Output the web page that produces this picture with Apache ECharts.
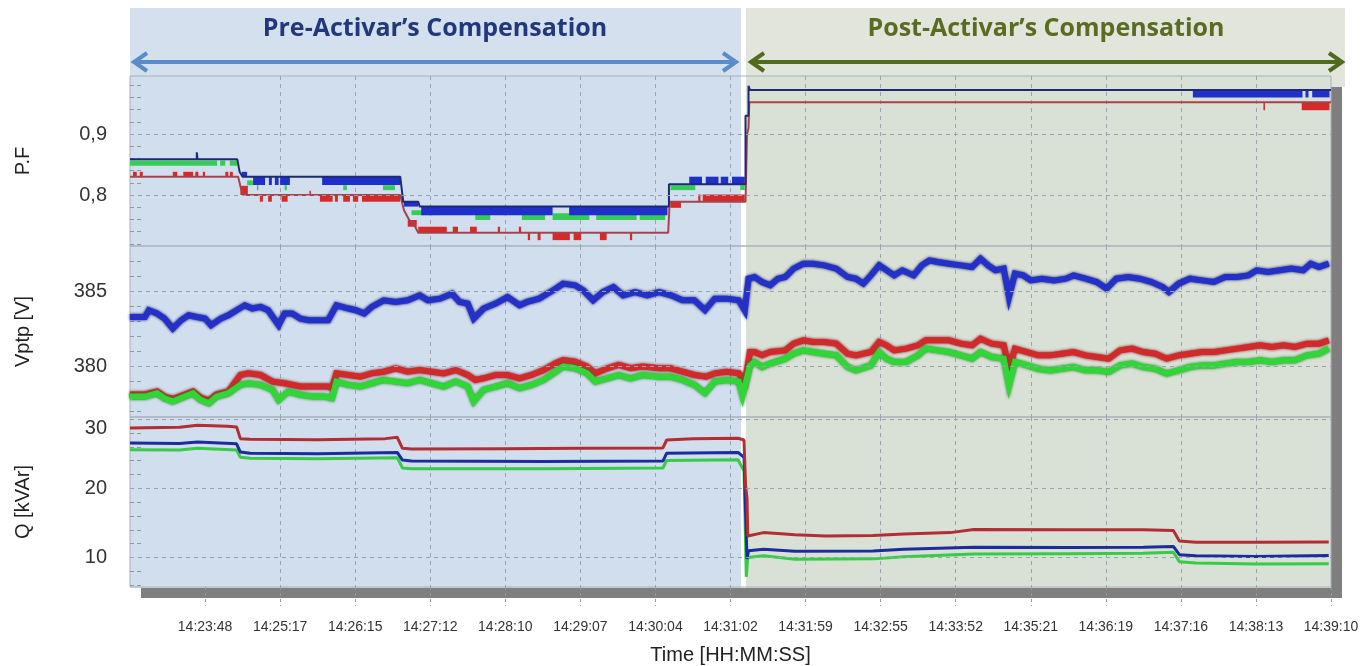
<!DOCTYPE html>
<html>
<head>
<meta charset="utf-8">
<title>Pre / Post Activar's Compensation</title>
<script src="https://cdn.jsdelivr.net/npm/echarts@6/dist/echarts.min.js"></script>
<style>
  html, body { margin: 0; padding: 0; background: #ffffff; }
  #chart { width: 1370px; height: 666px; }
</style>
</head>
<body>
<div id="chart"></div>
<script>
// x is the sample position: 0..16, one unit per labelled tick
const tickLabels = ['14:23:48', '14:25:17', '14:26:15', '14:27:12', '14:28:10', '14:29:07', '14:30:04', '14:31:02',
  '14:31:59', '14:32:55', '14:33:52', '14:35:21', '14:36:19', '14:37:16', '14:38:13', '14:39:10'];

const pfMajor = [0.8, 0.9];
const pfMinor = [0.72, 0.74, 0.76, 0.78, 0.82, 0.84, 0.86, 0.88, 0.92, 0.94, 0.96, 0.98];
const vMajor = [380, 385];
const vMinor = [377, 378, 379, 381, 382, 383, 384, 386, 387];
const qMajor = [10, 20, 30];
const qMinor = [6, 8, 12, 14, 16, 18, 22, 24, 26, 28];

// power factor: envelope lines [x, pf]
const pfBlueLine = [[0, 0.8585], [0.89, 0.8585], [0.89, 0.870], [0.9, 0.870], [0.9, 0.8585], [1.43, 0.8585],
  [1.46, 0.838], [1.5, 0.830], [3.6, 0.830], [3.64, 0.789], [3.84, 0.789], [3.86, 0.781], [7.18, 0.781],
  [7.18, 0.8175], [8.2, 0.8175], [8.2, 0.93], [8.24, 0.93], [8.24, 0.979], [8.26, 0.979], [8.26, 0.972], [16, 0.972]];
const pfRedLine = [[0, 0.830], [1.44, 0.830], [1.48, 0.810], [1.53, 0.800], [3.6, 0.800], [3.65, 0.775],
  [3.72, 0.759], [3.8, 0.748], [3.84, 0.738], [7.17, 0.738], [7.19, 0.789], [8.2, 0.789], [8.22, 0.90],
  [8.24, 0.91], [8.25, 0.952], [16, 0.952]];
// toggling stretches [x0, x1, pfLow, pfHigh]
const pfBlueBlocks = [[1.49, 1.56, 0.830, 0.838], [1.64, 1.80, 0.8164, 0.830], [1.85, 1.89, 0.8164, 0.830],
  [1.93, 1.98, 0.8164, 0.830], [2.0, 2.13, 0.8164, 0.830], [2.56, 3.6, 0.8164, 0.830],
  [3.65, 3.84, 0.781, 0.789], [3.88, 5.63, 0.767, 0.781], [5.85, 7.16, 0.767, 0.781],
  [7.45, 7.62, 0.818, 0.830], [7.67, 7.84, 0.818, 0.830], [7.87, 7.97, 0.818, 0.830], [8.02, 8.19, 0.818, 0.830],
  [14.16, 15.62, 0.960, 0.972], [15.66, 15.7, 0.960, 0.972], [15.75, 15.98, 0.960, 0.972]];
const pfGreenBlocks = [[0.0, 1.16, 0.848, 0.8565], [1.2, 1.27, 0.848, 0.8565], [1.33, 1.43, 0.848, 0.8565],
  [1.56, 1.64, 0.816, 0.824], [1.69, 1.71, 0.808, 0.816], [2.06, 2.09, 0.808, 0.816], [2.84, 2.89, 0.808, 0.816],
  [3.37, 3.53, 0.808, 0.816], [3.75, 4.13, 0.767, 0.775], [4.6, 4.8, 0.759, 0.770], [5.22, 5.53, 0.759, 0.770],
  [5.63, 6.12, 0.759, 0.770], [6.21, 6.75, 0.759, 0.770], [6.79, 7.13, 0.759, 0.770],
  [7.2, 7.53, 0.808, 0.816], [8.13, 8.19, 0.808, 0.816]];
const pfRedBlocks = [[0.04, 0.09, 0.830, 0.838], [0.13, 0.17, 0.830, 0.838], [0.57, 0.63, 0.830, 0.838],
  [0.71, 0.84, 0.830, 0.838], [0.87, 0.91, 0.830, 0.838], [0.97, 1.0, 0.830, 0.838], [1.27, 1.31, 0.830, 0.838],
  [1.33, 1.37, 0.830, 0.838], [1.47, 1.57, 0.800, 0.815], [1.73, 1.77, 0.789, 0.800], [1.84, 1.89, 0.789, 0.800],
  [2.02, 2.1, 0.789, 0.800], [2.39, 2.41, 0.800, 0.807], [2.53, 2.7, 0.789, 0.800], [2.73, 2.77, 0.789, 0.800],
  [2.84, 2.93, 0.789, 0.800], [2.97, 3.04, 0.789, 0.800], [3.09, 3.6, 0.789, 0.800],
  [3.7, 3.82, 0.748, 0.759], [3.84, 4.22, 0.738, 0.748], [4.3, 4.37, 0.738, 0.748], [4.53, 4.62, 0.738, 0.748],
  [4.9, 4.93, 0.738, 0.748], [5.18, 5.21, 0.738, 0.748], [5.3, 5.33, 0.726, 0.738], [5.43, 5.47, 0.726, 0.738],
  [5.63, 5.86, 0.726, 0.738], [5.91, 6.01, 0.726, 0.738], [6.26, 6.35, 0.726, 0.738], [6.66, 6.69, 0.726, 0.738],
  [7.2, 7.34, 0.779, 0.789], [7.57, 7.6, 0.789, 0.801], [7.63, 8.19, 0.789, 0.801],
  [15.1, 15.12, 0.939, 0.952], [15.61, 15.98, 0.939, 0.952]];

// phase-to-phase voltage [x, V]
const vBlue = [[0, 383.27], [0.2, 383.27], [0.25, 383.72], [0.36, 383.5], [0.46, 383.16], [0.57, 382.5],
  [0.68, 383.05], [0.78, 383.38], [0.89, 383.27], [1.0, 383.16], [1.08, 382.72], [1.21, 383.16], [1.31, 383.38],
  [1.42, 383.72], [1.53, 384.05], [1.63, 383.83], [1.74, 383.94], [1.84, 383.72], [1.98, 382.72], [2.06, 383.5],
  [2.16, 383.5], [2.27, 383.16], [2.38, 383.05], [2.53, 383.05], [2.64, 383.05], [2.75, 384.05], [2.91, 383.83],
  [3.01, 383.72], [3.12, 383.5], [3.22, 383.94], [3.38, 384.38], [3.54, 384.27], [3.7, 384.38], [3.86, 384.71],
  [3.97, 384.38], [4.13, 384.49], [4.29, 384.82], [4.39, 384.27], [4.5, 384.16], [4.58, 383.16], [4.71, 383.83],
  [4.87, 384.16], [5.03, 384.6], [5.19, 384.05], [5.29, 384.27], [5.45, 384.49], [5.56, 384.82], [5.67, 385.15],
  [5.77, 385.49], [5.93, 385.38], [6.04, 385.04], [6.17, 384.38], [6.3, 384.93], [6.44, 385.26], [6.57, 384.71],
  [6.73, 384.93], [6.89, 384.71], [7.05, 384.93], [7.21, 384.71], [7.36, 384.38], [7.52, 384.38], [7.66, 383.72],
  [7.79, 384.49], [7.95, 384.49], [8.11, 384.38], [8.19, 383.7],
  [8.24, 385.82], [8.32, 385.93], [8.42, 385.6], [8.53, 385.38], [8.63, 385.82], [8.73, 385.93], [8.84, 386.49],
  [8.97, 386.82], [9.1, 386.82], [9.25, 386.71], [9.41, 386.49], [9.56, 385.93], [9.67, 385.82], [9.77, 385.49],
  [9.87, 386.04], [9.98, 386.71], [10.08, 386.38], [10.18, 386.04], [10.29, 386.38], [10.44, 386.04], [10.55, 386.71],
  [10.65, 387.04], [10.76, 386.93], [10.91, 386.82], [11.07, 386.71], [11.22, 386.6], [11.33, 387.16], [11.43, 386.71],
  [11.53, 386.38], [11.64, 386.49], [11.71, 384.6], [11.79, 386.16], [11.9, 386.04], [12.0, 385.71], [12.15, 385.82],
  [12.31, 385.71], [12.47, 385.82], [12.57, 386.04], [12.73, 385.82], [12.88, 385.6], [13.01, 385.16], [13.14, 385.82],
  [13.3, 385.93], [13.45, 385.82], [13.61, 385.6], [13.76, 385.27], [13.84, 384.93], [13.97, 385.49], [14.12, 385.82],
  [14.28, 385.71], [14.44, 385.6], [14.59, 385.93], [14.75, 385.93], [14.9, 386.04], [15.01, 386.38], [15.16, 386.27],
  [15.32, 386.38], [15.47, 386.49], [15.63, 386.38], [15.73, 386.82], [15.84, 386.6], [15.97, 386.82]];
const vRed = [[0, 378.1], [0.2, 378.1], [0.36, 378.3], [0.46, 377.96], [0.57, 377.8], [0.73, 378.1], [0.84, 378.3],
  [0.94, 377.9], [1.05, 377.7], [1.15, 378.1], [1.31, 378.3], [1.47, 379.4], [1.58, 379.51], [1.74, 379.4],
  [1.9, 378.96], [2.06, 378.85], [2.27, 378.63], [2.43, 378.63], [2.64, 378.63], [2.69, 378.52], [2.75, 379.51],
  [2.91, 379.4], [3.07, 379.29], [3.22, 379.51], [3.38, 379.62], [3.54, 379.85], [3.7, 379.62], [3.86, 379.73],
  [4.02, 379.62], [4.18, 379.51], [4.34, 379.73], [4.5, 379.4], [4.6, 379.07], [4.71, 379.18], [4.87, 379.4],
  [5.03, 379.4], [5.19, 379.18], [5.35, 379.4], [5.51, 379.73], [5.67, 380.18], [5.77, 380.4], [5.93, 380.29],
  [6.09, 379.96], [6.2, 379.51], [6.36, 379.85], [6.51, 380.07], [6.67, 379.85], [6.83, 379.96], [7.05, 379.85],
  [7.2, 379.85], [7.36, 379.62], [7.52, 379.4], [7.68, 379.29], [7.79, 379.51], [7.95, 379.62], [8.11, 379.51],
  [8.19, 378.9],
  [8.26, 380.93], [8.32, 380.93], [8.42, 380.71], [8.53, 380.93], [8.73, 381.04], [8.84, 381.49], [8.97, 381.71],
  [9.1, 381.6], [9.25, 381.6], [9.41, 381.49], [9.56, 380.82], [9.67, 380.71], [9.87, 380.93], [9.98, 381.6],
  [10.08, 381.38], [10.18, 381.04], [10.34, 381.16], [10.5, 381.38], [10.6, 381.71], [10.76, 381.71], [10.91, 381.71],
  [11.07, 381.49], [11.22, 381.38], [11.33, 381.82], [11.48, 381.49], [11.64, 381.38], [11.71, 379.82], [11.79, 381.16],
  [11.95, 380.93], [12.1, 380.71], [12.26, 380.71], [12.41, 380.82], [12.57, 380.93], [12.73, 380.71], [12.88, 380.6],
  [13.04, 380.49], [13.19, 381.04], [13.35, 381.16], [13.5, 380.93], [13.66, 380.82], [13.81, 380.49], [13.97, 380.71],
  [14.12, 380.82], [14.28, 380.93], [14.44, 380.93], [14.59, 381.04], [14.75, 381.16], [14.9, 381.27], [15.06, 381.38],
  [15.21, 381.27], [15.37, 381.38], [15.52, 381.27], [15.68, 381.49], [15.84, 381.49], [15.97, 381.71]];
const vGreen = [[0, 377.96], [0.2, 377.96], [0.36, 378.19], [0.46, 377.85], [0.57, 377.63], [0.73, 377.96],
  [0.84, 378.19], [0.94, 377.74], [1.05, 377.52], [1.15, 377.96], [1.31, 378.19], [1.47, 378.74], [1.58, 378.85],
  [1.74, 378.74], [1.9, 378.41], [1.98, 377.74], [2.11, 378.3], [2.27, 378.08], [2.43, 377.96], [2.59, 377.96],
  [2.69, 377.85], [2.75, 378.96], [2.91, 378.74], [3.07, 378.63], [3.22, 378.85], [3.38, 379.07], [3.54, 378.96],
  [3.7, 378.85], [3.86, 379.07], [4.02, 378.85], [4.18, 378.63], [4.34, 378.96], [4.5, 378.63], [4.58, 377.63],
  [4.71, 378.41], [4.87, 378.63], [5.03, 378.85], [5.19, 378.52], [5.35, 378.74], [5.51, 379.07], [5.67, 379.62],
  [5.77, 379.96], [5.93, 379.85], [6.09, 379.51], [6.2, 378.96], [6.36, 379.18], [6.51, 379.4], [6.67, 379.18],
  [6.83, 379.4], [7.05, 379.29], [7.2, 379.29], [7.36, 379.07], [7.52, 378.74], [7.66, 378.19], [7.79, 378.96],
  [7.95, 379.07], [8.11, 378.96], [8.16, 378.04],
  [8.26, 380.04], [8.32, 380.27], [8.42, 379.93], [8.53, 380.16], [8.73, 380.49], [8.84, 380.82], [8.97, 381.04],
  [9.1, 380.93], [9.25, 380.82], [9.41, 380.71], [9.56, 379.93], [9.67, 379.71], [9.87, 380.04], [9.98, 380.93],
  [10.08, 380.49], [10.18, 380.27], [10.34, 380.27], [10.5, 380.71], [10.6, 381.16], [10.76, 381.04], [10.91, 380.93],
  [11.07, 380.71], [11.22, 380.49], [11.33, 380.93], [11.48, 380.6], [11.64, 380.49], [11.71, 378.71], [11.79, 380.27],
  [11.95, 380.04], [12.1, 379.82], [12.26, 379.71], [12.41, 379.82], [12.57, 379.93], [12.73, 379.71], [12.88, 379.71],
  [13.04, 379.6], [13.19, 380.04], [13.35, 380.16], [13.5, 379.93], [13.66, 379.82], [13.81, 379.49], [13.97, 379.71],
  [14.12, 379.93], [14.28, 380.04], [14.44, 380.04], [14.59, 380.16], [14.75, 380.27], [14.9, 380.27], [15.06, 380.38],
  [15.21, 380.27], [15.37, 380.38], [15.52, 380.38], [15.68, 380.71], [15.84, 380.82], [15.97, 381.16]];

// reactive power [x, kVAr]
const qRed = [[0, 28.75], [0.66, 28.85], [0.9, 29.15], [1.3, 29.0], [1.42, 28.9], [1.47, 27.2], [1.6, 27.1],
  [2.5, 27.05], [3.4, 27.2], [3.56, 27.4], [3.63, 25.8], [3.75, 25.7], [5.0, 25.75], [6.0, 25.8], [7.1, 25.85],
  [7.15, 27.0], [7.5, 27.2], [8.1, 27.25], [8.18, 27.0], [8.2, 20.5], [8.22, 18.5], [8.23, 13.1], [8.44, 13.6],
  [8.86, 13.3], [9.27, 13.1], [9.9, 13.2], [10.31, 13.4], [10.93, 13.6], [11.24, 14.05], [12.5, 14.0], [13.5, 14.0],
  [13.9, 13.9], [13.98, 12.4], [14.2, 12.2], [15.0, 12.2], [15.97, 12.25]];
const qBlue = [[0, 26.55], [0.66, 26.5], [0.9, 26.7], [1.42, 26.45], [1.47, 25.25], [1.6, 25.1], [2.5, 25.0],
  [3.56, 25.2], [3.63, 24.1], [3.75, 23.95], [5.5, 23.9], [7.1, 23.95], [7.15, 25.1], [8.1, 25.2], [8.18, 24.5],
  [8.2, 17], [8.22, 9.8], [8.24, 10.96], [8.44, 11.2], [8.86, 10.9], [9.9, 10.95], [10.31, 11.2], [11.24, 11.5],
  [12.5, 11.45], [13.5, 11.5], [13.9, 11.6], [13.98, 10.4], [14.2, 10.25], [15.0, 10.15], [15.97, 10.3]];
const qGreen = [[0, 25.6], [0.66, 25.55], [0.9, 25.8], [1.42, 25.55], [1.47, 24.5], [1.6, 24.35], [2.5, 24.3],
  [3.56, 24.45], [3.63, 22.95], [3.75, 22.85], [5.5, 22.85], [7.1, 22.95], [7.15, 24.05], [8.1, 24.15], [8.18, 22.5],
  [8.21, 7.2], [8.23, 10.0], [8.44, 10.25], [8.86, 9.75], [9.9, 9.8], [10.31, 10.1], [11.24, 10.5], [12.5, 10.55],
  [13.5, 10.6], [13.9, 10.75], [13.98, 9.4], [14.2, 9.2], [15.0, 9.05], [15.97, 9.1]];

const chart = echarts.init(document.getElementById('chart'));

const gridLine = { color: '#9ba4ae', type: [4, 4], width: 1 };

function majorLines(values) {
  return {
    silent: true, symbol: 'none', animation: false,
    label: { show: false },
    lineStyle: gridLine,
    data: values.map(v => ({ yAxis: v }))
  };
}

function renderBlock(params, api) {
  const a = api.coord([api.value(0), api.value(3)]);
  const b = api.coord([api.value(1), api.value(2)]);
  return {
    type: 'rect',
    shape: { x: a[0], y: a[1], width: Math.max(b[0] - a[0], 1.5), height: b[1] - a[1] },
    style: { fill: api.visual('color') }
  };
}

function blocks(data, color, gi) {
  return {
    type: 'custom', xAxisIndex: gi, yAxisIndex: gi, silent: true, clip: true,
    renderItem: renderBlock, encode: { x: [0, 1], y: [2, 3] },
    itemStyle: { color: color }, data: data
  };
}

function trace(data, color, width, gi, extra) {
  return Object.assign({
    type: 'line', xAxisIndex: gi, yAxisIndex: gi, silent: true,
    showSymbol: false, symbol: 'none', clip: true,
    lineStyle: { color: color, width: width }, itemStyle: { color: color },
    data: data
  }, extra || {});
}

// thick noisy-looking voltage traces: bright core with a darker rim
function vTrace(data, color, rim, extra) {
  return trace(data, color, 6, 1, Object.assign({
    lineStyle: { color: color, width: 6, shadowColor: rim, shadowBlur: 3, join: 'miter' }
  }, extra || {}));
}

function xAxis(gi, bottom) {
  return {
    type: 'value', gridIndex: gi, min: 0, max: 16, interval: 1,
    axisLine: { show: false },
    axisTick: { show: bottom, length: 19, customValues: tickLabels.map((t, i) => i + 1),
      lineStyle: { color: '#999', type: [3, 3] } },
    axisLabel: {
      show: bottom, margin: 33, fontSize: 14, color: '#333', fontFamily: 'Liberation Sans',
      formatter: v => (v >= 1 ? tickLabels[Math.round(v) - 1] : '')
    },
    splitLine: { show: true, showMinLine: false, showMaxLine: false, lineStyle: gridLine },
    name: bottom ? 'Time [HH:MM:SS]' : '',
    nameLocation: 'middle', nameGap: 58,
    nameTextStyle: { fontSize: 20, color: '#222', fontFamily: 'Liberation Sans' }
  };
}

function yAxis(gi, name, min, max, major, minor, fmt) {
  return {
    type: 'value', gridIndex: gi, min: min, max: max,
    name: name, nameLocation: 'middle', nameGap: 97,
    nameTextStyle: { fontSize: 20, color: '#222', fontFamily: 'Liberation Sans' },
    axisLine: { show: false },
    axisTick: { show: true, inside: true, length: 11, customValues: minor,
      lineStyle: { color: '#8f979f', type: [4, 3] } },
    axisLabel: { customValues: major, margin: 23, fontSize: 20, color: '#333',
      fontFamily: 'Liberation Sans', formatter: fmt,
      rich: { low: { fontSize: 20, color: '#333', fontFamily: 'Liberation Sans', padding: [18, 0, 0, 0] } } },
    splitLine: { show: false }
  };
}

const gridBox = { left: 130, width: 1201, show: true, borderColor: '#a9b2bc', borderWidth: 1, backgroundColor: 'transparent' };

const option = {
  animation: false,
  backgroundColor: '#ffffff',
  grid: [
    Object.assign({ top: 76, height: 170 }, gridBox),
    Object.assign({ top: 246, height: 171 }, gridBox),
    Object.assign({ top: 417, height: 171 }, gridBox)
  ],
  xAxis: [xAxis(0, false), xAxis(1, false), xAxis(2, true)],
  yAxis: [
    yAxis(0, 'P.F', 0.71639, 0.99508, pfMajor, pfMinor, v => v.toFixed(1).replace('.', ',')),
    yAxis(1, 'Vptp [V]', 376.6, 388.0, vMajor, vMinor, v => String(Math.round(v))),
    yAxis(2, 'Q [kVAr]', 5.73, 30.33, qMajor, qMinor, v => (Math.round(v) === 30 ? '{low|30}' : String(Math.round(v))))
  ],
  graphic: [
    // header and plot backgrounds
    { type: 'rect', z: -20, shape: { x: 130, y: 8, width: 611, height: 68 }, style: { fill: '#d5e0ee' } },
    { type: 'rect', z: -20, shape: { x: 746, y: 8, width: 599, height: 79 }, style: { fill: '#e1e5dc' } },
    { type: 'rect', z: -20, shape: { x: 130, y: 76, width: 611, height: 512 }, style: { fill: '#d1deee' } },
    { type: 'rect', z: -20, shape: { x: 746, y: 76, width: 585, height: 512 }, style: { fill: '#d9e0d6' } },
    // drop shadow of the plot
    { type: 'rect', z: -19, shape: { x: 141, y: 588, width: 1201, height: 10 }, style: { fill: '#7f7f7f' } },
    { type: 'rect', z: -19, shape: { x: 1331, y: 87, width: 11, height: 511 }, style: { fill: '#7f7f7f' } },
    // section titles
    { type: 'text', z: 10, style: { text: 'Pre-Activar’s Compensation', x: 435, y: 29, align: 'center', verticalAlign: 'middle',
      fontSize: 25, fontWeight: 'bold', fontFamily: 'Open Sans', fill: '#21397a' } },
    { type: 'text', z: 10, style: { text: 'Post-Activar’s Compensation', x: 1046, y: 29, align: 'center', verticalAlign: 'middle',
      fontSize: 25, fontWeight: 'bold', fontFamily: 'Open Sans', fill: '#5a6b22' } },
    // double arrows
    { type: 'polyline', z: 10, shape: { points: [[134, 62], [736, 62]] }, style: { stroke: '#5a8cca', lineWidth: 4 } },
    { type: 'polyline', z: 10, shape: { points: [[147, 53], [134, 62], [147, 71]] }, style: { stroke: '#5a8cca', lineWidth: 4, fill: null, lineJoin: 'miter' } },
    { type: 'polyline', z: 10, shape: { points: [[723, 53], [736, 62], [723, 71]] }, style: { stroke: '#5a8cca', lineWidth: 4, fill: null, lineJoin: 'miter' } },
    { type: 'polyline', z: 10, shape: { points: [[751, 62], [1342, 62]] }, style: { stroke: '#506b20', lineWidth: 4 } },
    { type: 'polyline', z: 10, shape: { points: [[764, 53], [751, 62], [764, 71]] }, style: { stroke: '#506b20', lineWidth: 4, fill: null, lineJoin: 'miter' } },
    { type: 'polyline', z: 10, shape: { points: [[1329, 53], [1342, 62], [1329, 71]] }, style: { stroke: '#506b20', lineWidth: 4, fill: null, lineJoin: 'miter' } }
  ],
  series: [
    // P.F panel
    Object.assign(blocks(pfRedBlocks, '#d42a2a', 0), { markLine: majorLines(pfMajor) }),
    trace(pfRedLine, '#a8434b', 2, 0),
    blocks(pfGreenBlocks, '#35cc55', 0),
    blocks(pfBlueBlocks, '#1f2fcc', 0),
    trace(pfBlueLine, '#1e2a72', 2, 0),
    // Vptp panel
    vTrace(vRed, '#d22a2a', '#7a1010', { markLine: majorLines(vMajor) }),
    vTrace(vGreen, '#2fd636', '#1a7a1a'),
    vTrace(vBlue, '#2331c9', '#0c1260'),
    // Q panel
    trace(qGreen, '#36cc46', 3, 2, { markLine: majorLines(qMajor) }),
    trace(qBlue, '#1c2c9c', 3, 2),
    trace(qRed, '#b02e34', 3, 2)
  ]
};

chart.setOption(option);
</script>
</body>
</html>
